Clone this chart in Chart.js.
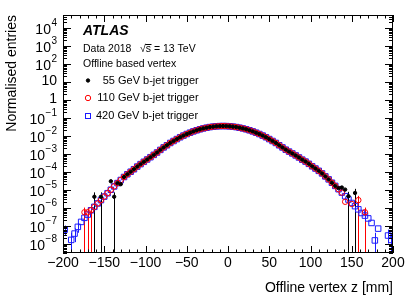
<!DOCTYPE html>
<html>
<head>
<meta charset="utf-8">
<script src="https://cdn.jsdelivr.net/npm/chart.js@4.4.1/dist/chart.umd.min.js"></script>
<style>
  html, body { margin: 0; padding: 0; background: #fff; }
</style>
</head>
<body>
<canvas id="vtxChart" width="415" height="298"></canvas>
<script>
// bin centres of offline vertex z [mm]
const zBins = [
  -198, -194, -190, -186, -182, -178, -174, -170, -166, -162,
  -158, -154, -150, -146, -142, -138, -134, -130, -126, -122,
  -118, -114, -110, -106, -102, -98, -94, -90, -86, -82,
  -78, -74, -70, -66, -62, -58, -54, -50, -46, -42,
  -38, -34, -30, -26, -22, -18, -14, -10, -6, -2,
  2, 6, 10, 14, 18, 22, 26, 30, 34, 38,
  42, 46, 50, 54, 58, 62, 66, 70, 74, 78,
  82, 86, 90, 94, 98, 102, 106, 110, 114, 118,
  122, 126, 130, 134, 138, 142, 146, 150, 154, 158,
  162, 166, 170, 174, 178, 182, 186, 190, 194, 198
];

// normalised entries per bin (null = empty bin)
const trig55 = [
  null, null, null, null, null, null, null, null, null, 4.0e-6,
  null, 4.0e-6, null, null, 2.9e-5, 4.0e-6, 2.3e-5, 2.0e-5, 5.0e-5, 7.1e-5,
  9.8e-5, 1.35e-4, 1.9e-4, 2.6e-4, 3.5e-4, 4.7e-4, 6.3e-4, 8.5e-4, 1.15e-3, 1.6e-3,
  2.2e-3, 2.9e-3, 3.9e-3, 5.0e-3, 6.4e-3, 8.1e-3, 1.0e-2, 1.22e-2, 1.45e-2, 1.71e-2,
  1.97e-2, 2.24e-2, 2.50e-2, 2.74e-2, 2.96e-2, 3.14e-2, 3.27e-2, 3.36e-2, 3.39e-2, 3.36e-2,
  3.27e-2, 3.14e-2, 2.96e-2, 2.74e-2, 2.50e-2, 2.24e-2, 1.97e-2, 1.71e-2, 1.45e-2, 1.22e-2,
  1.0e-2, 8.1e-3, 6.4e-3, 5.0e-3, 3.9e-3, 2.9e-3, 2.2e-3, 1.65e-3, 1.29e-3, 1.02e-3,
  7.9e-4, 6.1e-4, 4.6e-4, 3.6e-4, 2.7e-4, 1.96e-4, 1.48e-4, 1.1e-4, 7.9e-5, 5.4e-5,
  3.7e-5, 2.4e-5, 1.6e-5, 1.2e-5, 1.3e-5, 1.0e-5, 4.3e-6, null, 6.5e-6, null,
  null, null, null, null, null, null, null, null, null, null
];
const trig110 = [
  null, null, null, null, null, null, 5.5e-7, 5.5e-7, 7.1e-7, 1.1e-6,
  1.7e-6, 2.6e-6, 4.1e-6, 6.3e-6, 9.8e-6, 1.5e-5, 2.3e-5, 3.4e-5, 5.0e-5, 7.1e-5,
  9.8e-5, 1.35e-4, 1.9e-4, 2.6e-4, 3.5e-4, 4.7e-4, 6.3e-4, 8.5e-4, 1.15e-3, 1.6e-3,
  2.2e-3, 2.9e-3, 3.9e-3, 5.0e-3, 6.4e-3, 8.1e-3, 1.0e-2, 1.22e-2, 1.45e-2, 1.71e-2,
  1.97e-2, 2.24e-2, 2.50e-2, 2.74e-2, 2.96e-2, 3.14e-2, 3.27e-2, 3.36e-2, 3.39e-2, 3.36e-2,
  3.27e-2, 3.14e-2, 2.96e-2, 2.74e-2, 2.50e-2, 2.24e-2, 1.97e-2, 1.71e-2, 1.45e-2, 1.22e-2,
  1.0e-2, 8.1e-3, 6.4e-3, 5.0e-3, 3.9e-3, 2.9e-3, 2.2e-3, 1.65e-3, 1.29e-3, 1.02e-3,
  7.9e-4, 6.1e-4, 4.6e-4, 3.6e-4, 2.7e-4, 1.96e-4, 1.48e-4, 1.1e-4, 7.9e-5, 5.4e-5,
  3.7e-5, 2.4e-5, 1.6e-5, 1.05e-5, 6.8e-6, 2.1e-6, null, 1.6e-6, null, 2.6e-6,
  null, 5.5e-7, null, null, null, null, null, null, null, null
];
const trig420 = [
  6.0e-8, null, 1.6e-8, 3.6e-8, 8.5e-8, 1.6e-7, 2.7e-7, 4.1e-7, 7.1e-7, 1.1e-6,
  1.7e-6, 2.6e-6, 4.1e-6, 6.3e-6, 9.8e-6, 1.5e-5, 2.3e-5, 3.4e-5, 5.0e-5, 7.1e-5,
  9.8e-5, 1.35e-4, 1.9e-4, 2.6e-4, 3.5e-4, 4.7e-4, 6.3e-4, 8.5e-4, 1.15e-3, 1.6e-3,
  2.2e-3, 2.9e-3, 3.9e-3, 5.0e-3, 6.4e-3, 8.1e-3, 1.0e-2, 1.22e-2, 1.45e-2, 1.71e-2,
  1.97e-2, 2.24e-2, 2.50e-2, 2.74e-2, 2.96e-2, 3.14e-2, 3.27e-2, 3.36e-2, 3.39e-2, 3.36e-2,
  3.27e-2, 3.14e-2, 2.96e-2, 2.74e-2, 2.50e-2, 2.24e-2, 1.97e-2, 1.71e-2, 1.45e-2, 1.22e-2,
  1.0e-2, 8.1e-3, 6.4e-3, 5.0e-3, 3.9e-3, 2.9e-3, 2.2e-3, 1.65e-3, 1.29e-3, 1.02e-3,
  7.9e-4, 6.1e-4, 4.6e-4, 3.6e-4, 2.7e-4, 1.96e-4, 1.48e-4, 1.1e-4, 7.9e-5, 5.4e-5,
  3.7e-5, 2.4e-5, 1.6e-5, 1.05e-5, 6.8e-6, 4.3e-6, 2.8e-6, 1.8e-6, 1.2e-6, 8.0e-7,
  5.0e-7, 3.6e-7, 2.5e-7, 1.4e-7, 1.5e-8, 6.8e-8, null, null, 2.8e-8, 1.6e-8
];

// visible error bars in the tails (z, low, high); 1e-9 means down to the axis
const err55Z = [-162, -154, -138, 146, 154];
const err55Lo = [1e-9, 1e-9, 1e-9, 1e-9, 1e-9];
const err55Hi = [7e-6, 7e-6, 7e-6, 7.5e-6, 1.1e-5];
const err110Z = [-174, -170, -166, 158, 166];
const err110Lo = [1e-9, 1e-9, 1e-9, 1e-9, 1e-9];
const err110Hi = [1.0e-6, 1.0e-6, 1.2e-6, 4.5e-6, 1.0e-6];
const err420Z = [-198, -190, -186, -182, 178, 194, 198];
const err420Lo = [3e-8, 1e-9, 1.2e-8, 4e-8, 1e-9, 1e-8, 1e-9];
const err420Hi = [1.0e-7, 4e-8, 7e-8, 1.4e-7, 4e-8, 6e-8, 4e-8];

const yExponents = [4, 3, 2, 1, 0, -1, -2, -3, -4, -5, -6, -7, -8];

const FONT = '"Liberation Sans", Arial, Helvetica, sans-serif';
const BLUE = '#1a1aff';

function toPoints(values) {
    let pts = [];
    values.forEach((v, i) => { if (v !== null) pts.push({ x: zBins[i], y: v }); });
    return pts;
}

let errSets = [
    { color: '#000000', z: err55Z, lo: err55Lo, hi: err55Hi },
    { color: '#ff0000', z: err110Z, lo: err110Lo, hi: err110Hi },
    { color: BLUE, z: err420Z, lo: err420Lo, hi: err420Hi }
];

// vertical error bars, clipped to the frame
const errorBars = {
    id: 'errorBars',
    beforeDatasetsDraw(chart) {
        const { ctx, chartArea: a, scales: { x, y } } = chart;
        ctx.save();
        ctx.beginPath();
        ctx.rect(a.left, a.top, a.right - a.left, a.bottom - a.top);
        ctx.clip();
        ctx.lineWidth = 1;
        errSets.forEach(s => {
            ctx.strokeStyle = s.color;
            s.z.forEach((z, i) => {
                const px = Math.round(x.getPixelForValue(z)) + 0.5;
                const top = y.getPixelForValue(s.hi[i]);
                const bot = Math.min(y.getPixelForValue(s.lo[i]), a.bottom);
                ctx.beginPath();
                ctx.moveTo(px, top);
                ctx.lineTo(px, bot);
                ctx.stroke();
            });
        });
        ctx.restore();
    }
};

// ROOT style frame: box, inward ticks on all sides, log labels, ATLAS text and legend
const atlasFrame = {
    id: 'atlasFrame',
    afterDraw(chart) {
        const { ctx, chartArea: a, scales: { x, y } } = chart;
        ctx.save();
        ctx.strokeStyle = '#000';
        ctx.lineWidth = 1;
        ctx.strokeRect(a.left + 0.5, a.top + 0.5, a.right - a.left - 1, a.bottom - a.top - 1);

        ctx.beginPath();
        // x ticks every 10 mm, long every 50 mm
        for (let v = x.min; v <= x.max; v += 10) {
            const px = Math.round(x.getPixelForValue(v)) + 0.5;
            const len = (v % 50 === 0) ? 7 : 3.5;
            ctx.moveTo(px, a.bottom); ctx.lineTo(px, a.bottom - len);
            ctx.moveTo(px, a.top); ctx.lineTo(px, a.top + len);
        }
        // y ticks per decade
        for (let e = -9; e <= 5; e++) {
            for (let k = 1; k <= 9; k++) {
                const v = k * Math.pow(10, e);
                if (v < y.min || v > y.max) continue;
                const py = Math.round(y.getPixelForValue(v)) + 0.5;
                const len = (k === 1) ? 8 : 4;
                ctx.moveTo(a.left, py); ctx.lineTo(a.left + len, py);
                ctx.moveTo(a.right, py); ctx.lineTo(a.right - len, py);
            }
        }
        ctx.stroke();

        // y labels with superscript exponents
        ctx.fillStyle = '#000';
        ctx.textAlign = 'right';
        ctx.textBaseline = 'middle';
        const labelRight = a.left - 6;
        yExponents.forEach(e => {
            const py = y.getPixelForValue(Math.pow(10, e));
            if (e === 0 || e === 1) {
                ctx.font = '14px ' + FONT;
                ctx.fillText(e === 0 ? '1' : '10', labelRight, py);
                return;
            }
            const expText = e < 0 ? '\u2212' + (-e) : String(e);
            ctx.font = '10px ' + FONT;
            const w = ctx.measureText(expText).width;
            ctx.fillText(expText, labelRight, py - 4);
            ctx.font = '14px ' + FONT;
            ctx.fillText('10', labelRight - w - 0.5, py + 3);
        });

        // ATLAS label block
        ctx.textAlign = 'left';
        ctx.font = 'italic bold 14px ' + FONT;
        ctx.fillText('ATLAS', 83, 31);
        ctx.font = '10.5px ' + FONT;
        ctx.fillText('Data 2018', 83, 49);
        ctx.fillText('\u221As = 13 TeV', 140, 49);
        const rootW = ctx.measureText('\u221A').width;
        const sW = ctx.measureText('s').width;
        ctx.beginPath();
        ctx.moveTo(140 + rootW - 0.5, 44.5);
        ctx.lineTo(140 + rootW + sW + 0.5, 44.5);
        ctx.stroke();
        ctx.fillText('Offline based vertex', 83, 64);

        // legend
        const rows = [
            { y: 80.5, tx: 102.7 },
            { y: 98, tx: 97.3 },
            { y: 115.7, tx: 96 }
        ];
        ctx.font = '11px ' + FONT;
        chart.data.datasets.forEach((ds, i) => {
            const r = rows[i];
            ctx.fillStyle = '#000';
            ctx.fillText(ds.label, r.tx, r.y);
            ctx.save();
            ctx.strokeStyle = ds.borderColor;
            ctx.lineWidth = 1;
            ctx.beginPath();
            if (ds.pointStyle === 'rect') {
                ctx.strokeRect(85.5, Math.round(r.y) - 2.5, 5, 5);
            } else {
                ctx.arc(88, r.y, ds.pointRadius, 0, Math.PI * 2);
                if (ds.backgroundColor === '#000000') {
                    ctx.fillStyle = '#000';
                    ctx.fill();
                }
                ctx.stroke();
            }
            ctx.restore();
        });
        ctx.restore();
    }
};

let ctx = document.getElementById('vtxChart').getContext('2d');
let vtxChart = new Chart(ctx, {
    type: 'scatter',
    data: {
        datasets: [{
            label: '55 GeV b-jet trigger',
            data: toPoints(trig55),
            pointStyle: 'circle',
            pointRadius: 1.7,
            borderWidth: 1,
            borderColor: '#000000',
            backgroundColor: '#000000'
        }, {
            label: '110 GeV b-jet trigger',
            data: toPoints(trig110),
            pointStyle: 'circle',
            pointRadius: 2.7,
            borderWidth: 1,
            borderColor: '#ff0000',
            backgroundColor: 'rgba(0,0,0,0)'
        }, {
            label: '420 GeV b-jet trigger',
            data: toPoints(trig420),
            pointStyle: 'rect',
            pointRadius: 3.9,
            borderWidth: 1,
            borderColor: BLUE,
            backgroundColor: 'rgba(0,0,0,0)'
        }]
    },
    options: {
        responsive: false,
        animation: false,
        events: [],
        layout: { padding: { top: 15, right: 22, left: 0, bottom: 0 } },
        plugins: {
            legend: { display: false },
            tooltip: { enabled: false }
        },
        scales: {
            x: {
                type: 'linear',
                min: -200,
                max: 200,
                grid: { display: false, drawTicks: false },
                border: { display: false },
                ticks: {
                    stepSize: 50,
                    padding: 2,
                    autoSkip: false,
                    maxRotation: 0,
                    color: '#000',
                    font: { family: FONT, size: 14 },
                    callback: v => v < 0 ? '\u2212' + Math.abs(v) : String(v)
                },
                title: {
                    display: true,
                    text: 'Offline vertex z [mm]',
                    align: 'end',
                    color: '#000',
                    font: { family: FONT, size: 14 },
                    padding: { top: 0, bottom: 1.5 }
                },
                afterFit: s => { s.height = 45; }
            },
            y: {
                type: 'logarithmic',
                min: 3e-9,
                max: 5e4,
                bounds: 'data',
                grid: { display: false, drawTicks: false },
                border: { display: false },
                ticks: { display: false },
                title: {
                    display: true,
                    text: 'Normalised entries',
                    align: 'end',
                    color: '#000',
                    font: { family: FONT, size: 14 },
                    padding: { top: 3.5, bottom: 0 }
                },
                afterFit: s => { s.width = 63; }
            }
        }
    },
    plugins: [errorBars, atlasFrame]
});
</script>
</body>
</html>
